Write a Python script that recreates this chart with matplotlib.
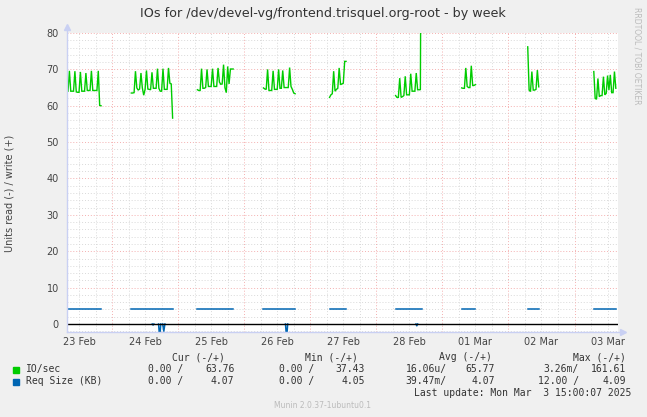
import matplotlib
matplotlib.use("Agg")
import matplotlib.pyplot as plt
import numpy as np

# ---------------- data (hours since 23 Feb 00:00) ----------------
seg_starts = [7.5, 31.0, 55.0, 79.0, 103.0, 127.0, 151.0, 175.0, 199.0]
step_h = 0.5
io_write = [
    [64.0, 64.0, 69.6, 64.0, 64.0, 64.0, 69.5, 63.8, 63.7, 63.7, 69.3, 64.0, 64.0,
     64.0, 69.0, 64.2, 64.2, 64.2, 69.6, 64.2, 64.2, 64.2, 64.2, 69.6, 60.1, 60.0],
    [63.5, 63.5, 63.6, 69.5, 64.9, 64.3, 64.6, 69.0, 64.9, 62.9, 64.5, 69.7, 64.6,
     64.5, 64.4, 69.2, 64.8, 64.8, 64.8, 70.2, 64.8, 64.0, 64.0, 70.2, 64.5, 64.5,
     64.5, 70.4, 66.2, 66.0, 56.6],
    [64.4, 64.2, 64.2, 70.2, 64.8, 64.8, 65.0, 70.0, 65.3, 65.3, 65.3, 70.2, 65.3,
     65.3, 65.3, 70.4, 66.5, 65.9, 66.0, 71.3, 65.0, 63.6, 70.8, 66.0, 70.1, 70.1, 70.1],
    [64.9, 64.6, 64.5, 70.0, 64.2, 64.2, 64.2, 69.6, 64.5, 64.5, 64.5, 70.0, 64.8,
     64.8, 69.7, 65.0, 65.0, 65.0, 65.0, 70.5, 65.3, 64.5, 63.5, 63.3],
    [62.3, 63.0, 63.3, 69.5, 64.0, 64.5, 64.8, 70.4, 65.8, 66.0, 66.2, 72.2, 72.2],
    [62.8, 62.3, 62.3, 67.6, 62.3, 62.5, 62.8, 68.1, 63.0, 63.0, 63.0, 68.8, 64.0,
     64.0, 64.0, 69.0, 64.4, 64.4, 64.4, 161.61],
    [64.9, 64.8, 64.8, 70.4, 65.3, 65.0, 65.0, 71.0, 65.5, 65.6, 65.8],
    [76.2, 64.3, 63.9, 69.4, 64.3, 64.3, 64.5, 69.8, 65.2],
    [69.4, 62.0, 61.8, 67.5, 62.5, 62.8, 62.8, 68.0, 63.0, 63.4, 68.3, 64.3, 68.5,
     63.6, 63.6, 69.4, 64.8],
]
req_size = [4.07, 4.07, 4.06, 4.07, 4.08, 4.07, 4.07, 4.06, 4.07]

# read request size dips (plotted below zero), as (start, bottom, end) triples
read_t = [38.6, 38.9, 39.2, 40.9, 41.3, 41.7, 42.4, 42.8, 43.2,
          87.0, 87.4, 87.8, 134.4, 134.7, 135.0]
read_v = [0, -0.3, 0, 0, -4.0, 0, 0, -2.0, 0,
          0, -4.0, 0, 0, -0.5, 0]

day_labels = ["23 Feb", "24 Feb", "25 Feb", "26 Feb", "27 Feb",
              "28 Feb", "01 Mar", "02 Mar", "03 Mar"]
day_label_pos = [12, 36, 60, 84, 108, 132, 156, 180, 204]

GREEN = "#00CC00"
BLUE = "#0066B3"
BG = "#F0F0F0"

W, H = 647, 417
fig = plt.figure(figsize=(W / 100, H / 100), dpi=100, facecolor=BG)

left, right, top, bottom = 66.5, 618.3, 33.0, 332.4
ax = fig.add_axes([left / W, 1 - bottom / H, (right - left) / W, (bottom - top) / H])
ax.set_facecolor("white")
x0, x1 = 7.45, 207.9
y0, y1 = -2.31, 80
ax.set_xlim(x0, x1)
ax.set_ylim(y0, y1)

MINOR = "#D9D9D9"
MAJOR = "#F4B0B0"
# grid
for yv in np.arange(-2, 81, 2):
    major = (yv % 10 == 0)
    ax.axhline(yv, color=MAJOR if major else MINOR,
               lw=0.7, ls=(0, (1, 2)), zorder=0.5)
for xv in np.arange(0, 210, 6):
    if xv <= x0:
        continue
    major = (xv % 24 == 0)
    ax.axvline(xv, color=MAJOR if major else MINOR,
               lw=0.7, ls=(0, (1, 2)), zorder=0.5)

# series
for s, vals, rs in zip(seg_starts, io_write, req_size):
    t = [s + step_h * i for i in range(len(vals))]
    ax.plot(t, vals, color=GREEN, lw=1.0, zorder=3, solid_joinstyle="miter")
    ax.plot([t[0], t[-1]], [rs, rs], color=BLUE, lw=1.1, zorder=3)

for i in range(0, len(read_t), 3):
    ax.plot(read_t[i:i + 3], read_v[i:i + 3], color=BLUE, lw=1.1, zorder=3)
ax.axhline(0, color="black", lw=1.0, zorder=4)

# axes styling
for sp in ax.spines.values():
    sp.set_visible(False)
axis_col = "#C9D0F3"
ax.plot([0, 0], [0, 1.02], transform=ax.transAxes, color=axis_col, lw=1, clip_on=False, zorder=5)
ax.plot([0, 1.008], [0, 0], transform=ax.transAxes, color=axis_col, lw=1, clip_on=False, zorder=5)
ax.plot([0], [1.02], marker="^", ms=5, color=axis_col, transform=ax.transAxes, clip_on=False)
ax.plot([1.008], [0], marker=">", ms=5, color=axis_col, transform=ax.transAxes, clip_on=False)

ax.set_yticks(range(0, 81, 10))
ax.set_yticklabels([str(v) for v in range(0, 81, 10)])
ax.set_xticks(day_label_pos)
ax.set_xticklabels(day_labels)
ax.tick_params(axis="both", length=0, labelsize=7, colors="#444444")
ax.tick_params(axis="y", pad=5.5)
ax.tick_params(axis="x", pad=3.5)

# texts
fig.text(323 / W, 1 - 13 / H, "IOs for /dev/devel-vg/frontend.trisquel.org-root - by week",
         ha="center", va="center", fontsize=9.2, color="#333333")
fig.text(10 / W, 1 - 193 / H, "Units read (-) / write (+)", rotation=90,
         ha="center", va="center", fontsize=7, color="#444444")
fig.text(637 / W, 1 - 56 / H, "RRDTOOL / TOBI OETIKER", rotation=270,
         ha="center", va="center", fontsize=5.5, color="#BBBBBB")

mono = dict(family="DejaVu Sans Mono", fontsize=7, color="#333333", va="center")
def T(x, y, s, ha="left"):
    fig.text(x / W, 1 - y / H, s, ha=ha, **mono)

T(172.5, 357, "Cur (-/+)")
T(305.3, 357, "Min (-/+)")
T(439.4, 357, "Avg (-/+)")
T(572.7, 357, "Max (-/+)")

fig.patches.append(plt.Rectangle((13 / W, 1 - 372.5 / H), 6 / W, 6 / H,
                                 transform=fig.transFigure, color=GREEN))
fig.patches.append(plt.Rectangle((13 / W, 1 - 384.5 / H), 6 / W, 6 / H,
                                 transform=fig.transFigure, color=BLUE))

T(25.6, 369, "IO/sec")
T(183.6, 369, "0.00 /", "right")
T(234.4, 369, "63.76", "right")
T(314.4, 369, "0.00 /", "right")
T(365.2, 369, "37.43", "right")
T(446.8, 369, "16.06u/", "right")
T(495.1, 369, "65.77", "right")
T(578.9, 369, "3.26m/", "right")
T(626.3, 369, "161.61", "right")

T(25.6, 381, "Req Size (KB)")
T(183.6, 381, "0.00 /", "right")
T(234.4, 381, "4.07", "right")
T(314.4, 381, "0.00 /", "right")
T(365.2, 381, "4.05", "right")
T(446.8, 381, "39.47m/", "right")
T(495.1, 381, "4.07", "right")
T(578.9, 381, "12.00 /", "right")
T(626.3, 381, "4.09", "right")

T(631.3, 393, "Last update: Mon Mar  3 15:00:07 2025", "right")

fig.text(322.7 / W, 1 - 406 / H, "Munin 2.0.37-1ubuntu0.1", ha="center", va="center",
         fontsize=5.5, color="#BBBBBB")

fig.savefig("out.png", dpi=100, facecolor=BG)
